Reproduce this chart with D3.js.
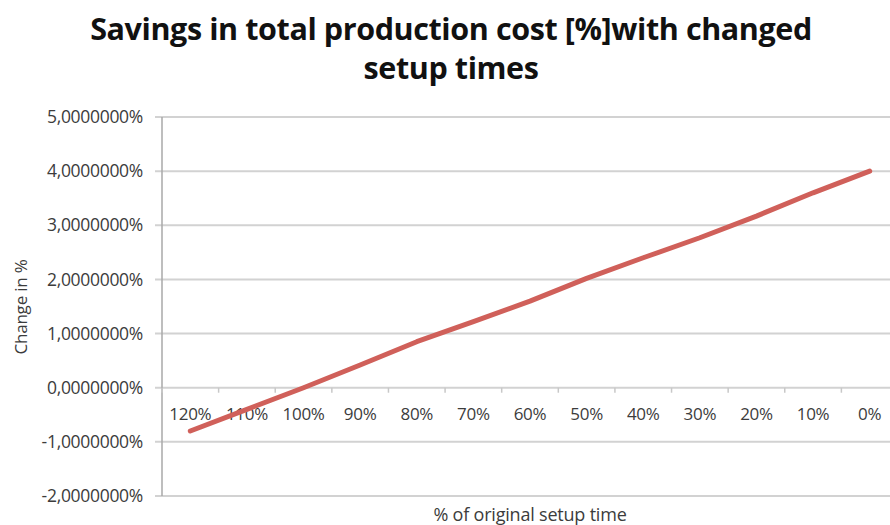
<!DOCTYPE html>
<html>
<head>
<meta charset="utf-8">
<script src="https://cdn.jsdelivr.net/npm/d3@7"></script>
<style>
  html, body { margin: 0; padding: 0; background: #fff; }
  svg { display: block; font-family: "Open Sans", Lato, sans-serif; }
</style>
</head>
<body>
<svg id="chart" width="890" height="525"></svg>
<script>
// Share of original setup time (categories, left to right)
const categories = ["120%", "110%", "100%", "90%", "80%", "70%", "60%", "50%", "40%", "30%", "20%", "10%", "0%"];
// Savings in total production cost, in percent
const savings = [-0.8, -0.4, 0.0, 0.42, 0.85, 1.22, 1.6, 2.02, 2.4, 2.77, 3.17, 3.6, 4.0];
// Value axis ticks, in percent
const yTicks = [-2, -1, 0, 1, 2, 3, 4, 5];

const svg = d3.select("#chart");
const margin = { left: 162, top: 117, bottom: 496, right: 898 };
const labelColor = "#3c3c3c";

const x = d3.scaleBand().domain(categories).range([margin.left, margin.right]);
const y = d3.scaleLinear().domain([-2, 5]).range([margin.bottom, margin.top]);

const fmt = v => d3.format(".7f")(v).replace(".", ",").replace("−", "-") + "%";

// Horizontal gridlines with short outside ticks
svg.append("g").selectAll("line")
  .data(yTicks)
  .join("line")
  .attr("x1", margin.left - 7)
  .attr("x2", margin.right)
  .attr("y1", d => y(d))
  .attr("y2", d => y(d))
  .attr("stroke", "#d2d2d2")
  .attr("stroke-width", 2);

// Value axis labels
svg.append("g").selectAll("text")
  .data(yTicks)
  .join("text")
  .attr("x", margin.left - 19)
  .attr("y", d => y(d))
  .attr("dy", "0.35em")
  .attr("text-anchor", "end")
  .attr("font-size", 17.5)
  .attr("letter-spacing", -0.3)
  .attr("fill", labelColor)
  .text(fmt);

// Vertical axis line
svg.append("line")
  .attr("x1", margin.left).attr("x2", margin.left)
  .attr("y1", margin.top).attr("y2", margin.bottom)
  .attr("stroke", "#a8a8a8")
  .attr("stroke-width", 1.5);

// Category axis sits on the zero line
const xAxis = d3.axisBottom(x).tickSize(0).tickSizeOuter(0);
const xg = svg.append("g").attr("transform", `translate(0,${y(0)})`).call(xAxis);
xg.select(".domain").remove();
xg.selectAll("text")
  .attr("dy", 0)
  .attr("y", 32)
  .attr("font-size", 17)
  .attr("letter-spacing", -0.3)
  .attr("font-family", "'Open Sans', Lato, sans-serif")
  .attr("fill", labelColor);

// Category tick marks at band boundaries
svg.append("g").selectAll("line")
  .data(categories)
  .join("line")
  .attr("x1", d => x(d))
  .attr("x2", d => x(d))
  .attr("y1", y(0))
  .attr("y2", y(0) + 5)
  .attr("stroke", "#c8c8c8")
  .attr("stroke-width", 1.5);

// Series line
const line = d3.line()
  .x((d, i) => x(categories[i]) + x.bandwidth() / 2)
  .y(d => y(d));

svg.append("path")
  .datum(savings)
  .attr("d", line)
  .attr("fill", "none")
  .attr("stroke", "#d0605a")
  .attr("stroke-width", 5)
  .attr("stroke-linecap", "round")
  .attr("stroke-linejoin", "round");

// Title
const title = svg.append("text")
  .attr("text-anchor", "middle")
  .attr("font-size", 30.5)
  .attr("font-weight", "bold")
  .attr("letter-spacing", -0.4)
  .attr("fill", "#111");
title.append("tspan").attr("x", 451).attr("y", 40).text("Savings in total production cost [%]with changed");
title.append("tspan").attr("x", 451).attr("y", 79).text("setup times");

// Axis titles
svg.append("text")
  .attr("x", 530)
  .attr("y", 521)
  .attr("text-anchor", "middle")
  .attr("font-size", 18)
  .attr("letter-spacing", -0.2)
  .attr("fill", labelColor)
  .text("% of original setup time");

svg.append("text")
  .attr("transform", "translate(27,307) rotate(-90)")
  .attr("text-anchor", "middle")
  .attr("font-size", 17)
  .attr("letter-spacing", -0.2)
  .attr("fill", labelColor)
  .text("Change in %");
</script>
</body>
</html>
